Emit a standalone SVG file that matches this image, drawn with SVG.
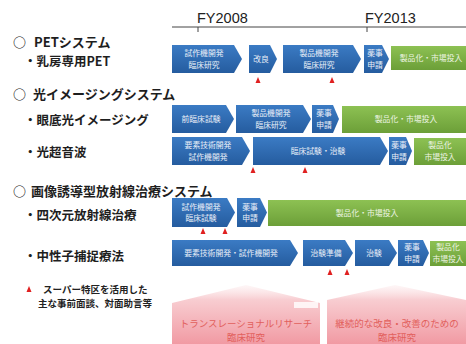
<svg xmlns="http://www.w3.org/2000/svg" width="466" height="344" viewBox="0 0 466 344">
<defs>
<linearGradient id="gb" x1="0" y1="0" x2="0" y2="1"><stop offset="0" stop-color="#3b7bc4"/><stop offset="1" stop-color="#255c9f"/></linearGradient>
<linearGradient id="gg" x1="0" y1="0" x2="0" y2="1"><stop offset="0" stop-color="#8dc153"/><stop offset="1" stop-color="#6c9f38"/></linearGradient>
<linearGradient id="gp" x1="0" y1="0" x2="0" y2="1"><stop offset="0" stop-color="#fbe3e5" stop-opacity="0.3"/><stop offset="0.25" stop-color="#f8cdd1"/><stop offset="1" stop-color="#f19aa3"/></linearGradient>
<style>
.lbl{font-family:"Noto Sans CJK JP","Noto Sans",sans-serif;font-weight:bold;fill:#1e1e1e}
.h{font-size:13px}
.s{font-size:12.5px}
.fy{font-family:"Liberation Sans",Arial,sans-serif;font-size:14.5px;fill:#222}
.b{fill:url(#gb)}
.g{fill:url(#gg)}
.t{font-family:"Noto Sans CJK JP",sans-serif;font-size:7.8px;fill:#e9eff8;text-anchor:middle}
.tg{font-family:"Noto Sans CJK JP",sans-serif;font-size:7.8px;fill:#eef5e4;text-anchor:middle}
.tri{fill:#e02020}
.p{fill:url(#gp)}
.pt{font-family:"Noto Sans CJK JP",sans-serif;font-size:9.5px;fill:#e2605c;text-anchor:middle}
.lg{font-family:"Noto Sans CJK JP",sans-serif;font-size:9.5px;font-weight:bold;fill:#222}
</style>
</defs>
<rect width="466" height="344" fill="#fff"/>

<g id="axis">
<line x1="172" y1="27" x2="466" y2="27" stroke="#444" stroke-width="1"/>
<line x1="198" y1="27" x2="198" y2="32" stroke="#444"/>
<line x1="367" y1="27" x2="367" y2="32" stroke="#444"/>
<text class="fy" x="197" y="23">FY2008</text>
<text class="fy" x="365" y="23">FY2013</text>
</g>

<g id="labels">
<text class="lbl h" x="13" y="47">○</text><text class="lbl h" x="34" y="47">PETシステム</text>
<text class="lbl s" x="24" y="66">・乳房専用PET</text>
<text class="lbl h" x="13" y="99">○</text><text class="lbl h" x="33" y="99">光イメージングシステム</text>
<text class="lbl s" x="24" y="125">・眼底光イメージング</text>
<text class="lbl s" x="24" y="157">・光超音波</text>
<text class="lbl h" x="13" y="196">○</text><text class="lbl h" x="31" y="196">画像誘導型放射線治療システム</text>
<text class="lbl s" x="24" y="220">・四次元放射線治療</text>
<text class="lbl s" x="24" y="261">・中性子捕捉療法</text>
</g>

<g id="legend">
<polygon class="tri" points="29,286 26.5,292 31.5,292"/>
<text class="lg" x="43" y="293">スーパー特区を活用した</text>
<text class="lg" x="38" y="307">主な事前面談、対面助言等</text>
</g>

<!-- Row 1 -->
<g id="r1a"><polygon class="b" points="172,45 234,45 242,59 234,73 172,73"/><text class="t" x="204" y="56">試作機開発</text><text class="t" x="204" y="67.5">臨床研究</text></g>
<g id="r1b"><polygon class="b" points="249,45 270,45 277,59 270,73 249,73"/><text class="t" x="261" y="62">改良</text></g>
<g id="r1c"><polygon class="b" points="283,45 353,45 361,59 353,73 283,73"/><text class="t" x="319" y="56">製品機開発</text><text class="t" x="319" y="67.5">臨床研究</text></g>
<g id="r1d"><polygon class="b" points="364,45 382,45 389,59 382,73 364,73"/><text class="t" x="375" y="56">薬事</text><text class="t" x="375" y="67.5">申請</text></g>
<g id="r1e"><rect class="g" x="391" y="46" width="75" height="24"/><text class="tg" x="431" y="61">製品化・市場投入</text></g>
<g id="r1m"><polygon class="tri" points="258,77 255.5,83 260.5,83"/><polygon class="tri" points="332,77 329.5,83 334.5,83"/></g>

<!-- Row 2 -->
<g id="r2a"><polygon class="b" points="172,105 226,105 234,119 226,133 172,133"/><text class="t" x="201" y="122">前臨床試験</text></g>
<g id="r2b"><polygon class="b" points="236,105 303,105 311,119 303,133 236,133"/><text class="t" x="271" y="116">製品機開発</text><text class="t" x="271" y="127.5">臨床研究</text></g>
<g id="r2c"><polygon class="b" points="312,105 333,105 339,119 333,133 312,133"/><text class="t" x="324" y="116">薬事</text><text class="t" x="324" y="127.5">申請</text></g>
<g id="r2d"><rect class="g" x="342" y="106" width="124" height="27"/><text class="tg" x="406" y="122">製品化・市場投入</text></g>

<!-- Row 3 -->
<g id="r3a"><polygon class="b" points="172,137 242,137 250,151 242,165 172,165"/><text class="t" x="208" y="148">要素技術開発</text><text class="t" x="208" y="159.5">試作機開発</text></g>
<g id="r3b"><polygon class="b" points="253,137 380,137 388,151 380,165 253,165"/><text class="t" x="318" y="154">臨床試験・治験</text></g>
<g id="r3c"><polygon class="b" points="389,137 406,137 412,151 406,165 389,165"/><text class="t" x="399" y="148">薬事</text><text class="t" x="399" y="159.5">申請</text></g>
<g id="r3d"><rect class="g" x="414" y="138" width="52" height="27"/><text class="tg" x="440" y="148">製品化</text><text class="tg" x="440" y="159.5">市場投入</text></g>
<g id="r3m"><polygon class="tri" points="253,167 250.5,173 255.5,173"/><polygon class="tri" points="305,167 302.5,173 307.5,173"/></g>

<!-- Row 4 -->
<g id="r4a"><polygon class="b" points="172,198 227,198 235,212.5 227,227 172,227"/><text class="t" x="201" y="209.5">試作機開発</text><text class="t" x="201" y="221">臨床試験</text></g>
<g id="r4b"><polygon class="b" points="237,198 260,198 267,212.5 260,227 237,227"/><text class="t" x="250" y="209.5">薬事</text><text class="t" x="250" y="221">申請</text></g>
<g id="r4c"><rect class="g" x="268" y="200" width="198" height="26"/><text class="tg" x="367" y="216">製品化・市場投入</text></g>
<g id="r4m"><polygon class="tri" points="203,228 200.5,234 205.5,234"/><polygon class="tri" points="225,228 222.5,234 227.5,234"/></g>

<!-- Row 5 -->
<g id="r5a"><polygon class="b" points="172,240 290,240 298,253 290,266 172,266"/><text class="t" x="231" y="256">要素技術開発・試作機開発</text></g>
<g id="r5b"><polygon class="b" points="303,240 345,240 353,253 345,266 303,266"/><text class="t" x="326" y="256">治験準備</text></g>
<g id="r5c"><polygon class="b" points="355,240 389,240 397,253 389,266 355,266"/><text class="t" x="374" y="256">治験</text></g>
<g id="r5d"><polygon class="b" points="398,240 423,240 429,253 423,266 398,266"/><text class="t" x="412" y="250">薬事</text><text class="t" x="412" y="261.5">申請</text></g>
<g id="r5e"><rect class="g" x="430" y="241" width="36" height="25"/><text class="tg" x="448" y="250">製品化</text><text class="tg" x="448" y="261.5">市場投入</text></g>
<g id="r5m"><polygon class="tri" points="330,269 327.5,275 332.5,275"/><polygon class="tri" points="347,269 344.5,275 349.5,275"/></g>

<!-- Bottom -->
<g id="trans"><polygon class="p" points="172,344 172,303 246,285 320,303 320,344"/><rect x="294" y="302" width="24" height="6" fill="#fff" opacity="0.8"/><text class="pt" x="246" y="327">トランスレーショナルリサーチ</text><text class="pt" x="246" y="341">臨床研究</text></g>
<g id="cont"><polygon class="p" points="327,344 327,300 395,285 466,300 466,344"/><text class="pt" x="397" y="327">継続的な改良・改善のための</text><text class="pt" x="397" y="341">臨床研究</text></g>
</svg>
